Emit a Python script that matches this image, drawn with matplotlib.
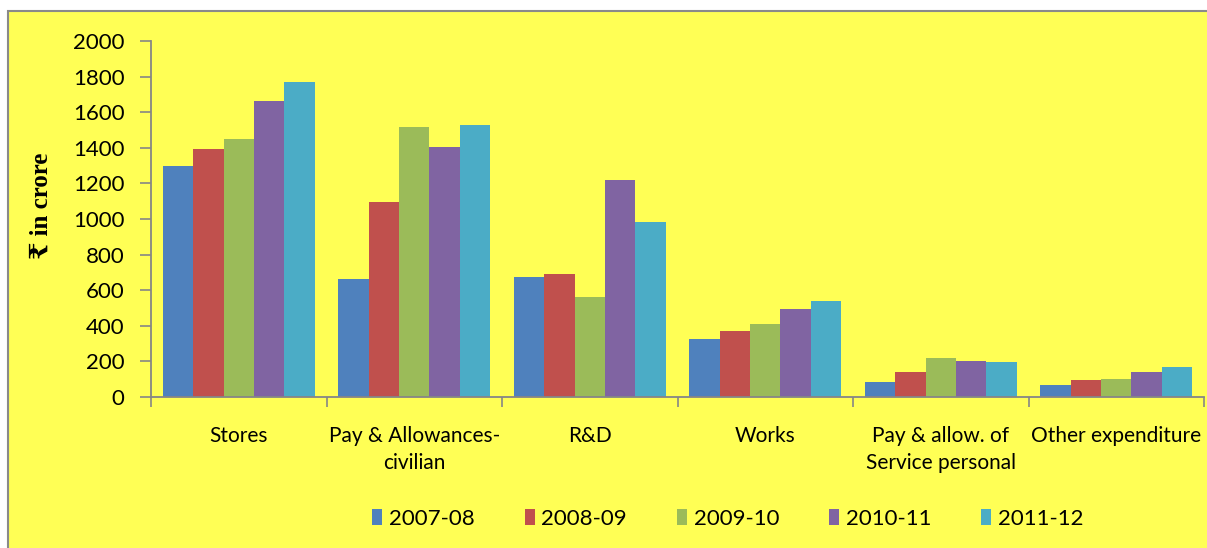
import matplotlib
matplotlib.use("Agg")
import matplotlib.pyplot as plt
import numpy as np
from matplotlib.patches import Rectangle

categories = ["Stores", "Pay & Allowances-\ncivilian", "R&D", "Works",
              "Pay & allow. of\nService personal", "Other expenditure"]
years = ["2007-08", "2008-09", "2009-10", "2010-11", "2011-12"]
v2007 = [1298, 663, 672, 324, 82, 65]
v2008 = [1391, 1094, 693, 369, 138, 95]
v2009 = [1449, 1519, 562, 412, 217, 101]
v2010 = [1665, 1404, 1217, 492, 202, 139]
v2011 = [1771, 1526, 981, 541, 195, 167]
series = [v2007, v2008, v2009, v2010, v2011]
colors = ["#4F81BD", "#C0504D", "#9BBB59", "#8064A2", "#4BACC6"]
yticks = [0, 200, 400, 600, 800, 1000, 1200, 1400, 1600, 1800, 2000]

W, H = 1207, 548
fig = plt.figure(figsize=(W / 100, H / 100), dpi=100, facecolor="white")
bg = Rectangle((8 / W, -0.01), 1.02, (548 - 11) / H + 0.01,
               transform=fig.transFigure, facecolor="#FFFF55",
               edgecolor="#8A8A8A", linewidth=1.5, zorder=-10)
fig.patches.append(bg)

ax = fig.add_axes([151 / W, 1 - 397 / H, (1204 - 151) / W, (397 - 41) / H])
ax.set_zorder(1)
ax.set_facecolor("none")

n = len(categories)
x = np.arange(n)
bw = 0.866 / 5
for i, (vals, col, lab) in enumerate(zip(series, colors, years)):
    ax.bar(x + (i - 2) * bw, vals, width=bw, color=col, label=lab, zorder=2)

ax.set_xlim(-0.5, n - 0.5)
ax.set_ylim(0, 2000)
ax.set_yticks(yticks)
ax.set_yticklabels([str(t) for t in yticks], family="Lato", fontsize=16)
ax.set_xticks(x)
ax.set_xticklabels(categories, family="Lato", fontsize=15, linespacing=1.4,
                   va="top")
ax.set_xticks(np.arange(-0.5, n, 1.0), minor=True)
ax.tick_params(axis="x", which="major", length=0, pad=21)
ax.tick_params(axis="x", which="minor", length=7, color="#868686", width=1.2)
ax.tick_params(axis="y", length=8, color="#868686", width=1.2, pad=11)

for s in ["top", "right"]:
    ax.spines[s].set_visible(False)
for s in ["left", "bottom"]:
    ax.spines[s].set_color("#868686")
    ax.spines[s].set_linewidth(1.3)

fig.text(41 / W, 1 - 206 / H, "₹ in crore", rotation=90, ha="center", va="center",
         fontsize=18, fontweight="bold",
         family=["Liberation Serif", "DejaVu Serif", "DejaVu Sans"])

leg = fig.legend(loc="center", bbox_to_anchor=(728 / W, 1 - 519 / H), ncol=5,
                 frameon=False, prop={"family": "Lato", "size": 16},
                 handlelength=0.45, handleheight=0.75, handletextpad=0.3,
                 columnspacing=2.25)

fig.savefig("out.png", dpi=100, facecolor="white")
